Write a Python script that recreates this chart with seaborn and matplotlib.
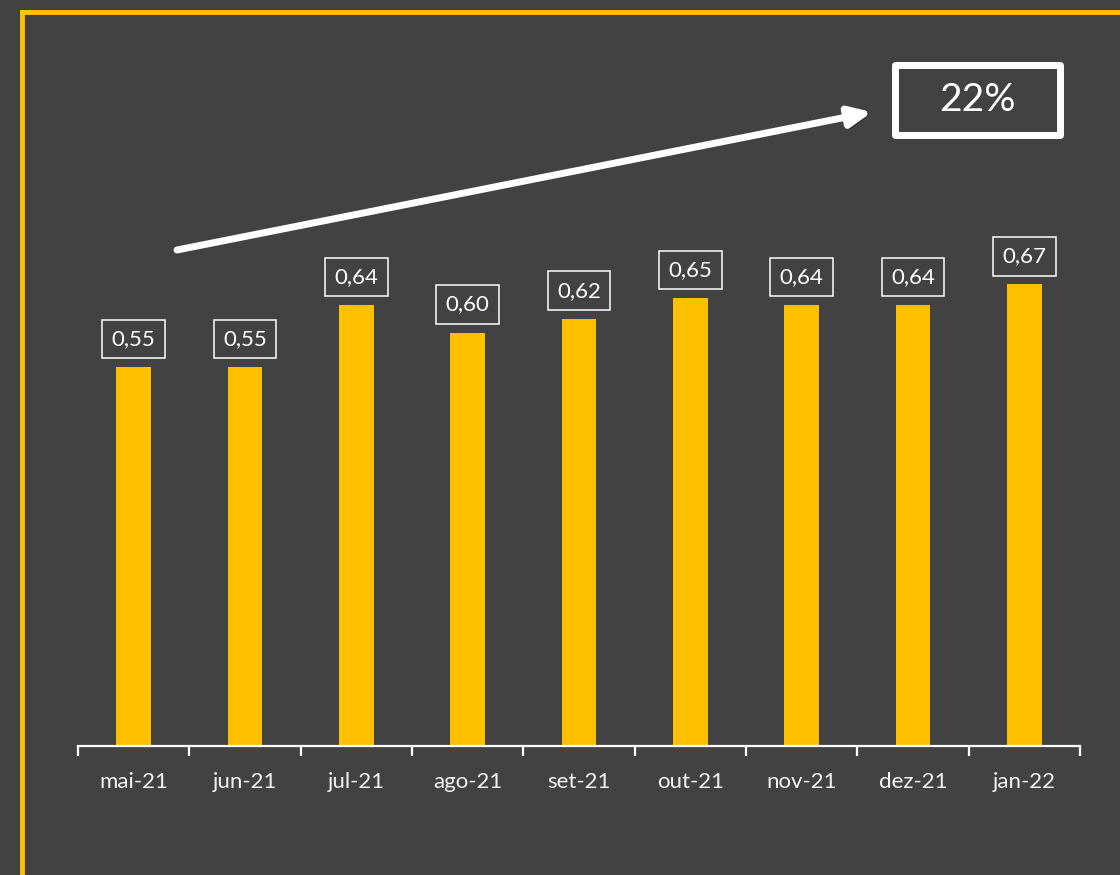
import matplotlib
matplotlib.use("Agg")
import matplotlib.pyplot as plt
import matplotlib.patheffects as pe
from matplotlib.lines import Line2D
from matplotlib.patches import Rectangle
import seaborn as sns
import pandas as pd

months = ["mai-21", "jun-21", "jul-21", "ago-21", "set-21", "out-21", "nov-21", "dez-21", "jan-22"]
values = [0.55, 0.55, 0.64, 0.60, 0.62, 0.65, 0.64, 0.64, 0.67]
growth_label = "22%"

bg = "#424242"
gold = "#FFC000"

sns.set_theme(style="white")
plt.rcParams["font.family"] = ["Lato", "DejaVu Sans"]

df = pd.DataFrame({"mes": months, "valor": values})

W, H = 1120, 875
fig = plt.figure(figsize=(11.2, 8.75), dpi=100, facecolor=bg)
ax = fig.add_axes([78 / W, 129 / H, 1002 / W, 689 / H])
ax.set_facecolor(bg)

sns.barplot(data=df, x="mes", y="valor", order=months, color=gold,
            width=0.31, saturation=1, linewidth=0, ax=ax)

ax.set_xlim(-0.5, len(months) - 0.5)
ax.set_ylim(0, 1.0)
ax.set_xlabel("")
ax.set_ylabel("")
ax.set_yticks([])

# ticks at category boundaries, labels at centres
ax.set_xticks([i - 0.5 for i in range(len(months) + 1)])
ax.set_xticklabels([])
ax.set_xticks(range(len(months)), minor=True)
ax.set_xticklabels(months, minor=True)
ax.tick_params(axis="x", which="major", bottom=True, length=7, width=1.6,
               color="white", direction="out")
ax.tick_params(axis="x", which="minor", bottom=True, length=0, pad=19,
               labelsize=16, labelcolor="#f2f2f2")

for s in ["top", "right", "left"]:
    ax.spines[s].set_visible(False)
ax.spines["bottom"].set_color("white")
ax.spines["bottom"].set_linewidth(1.6)

labels = [f"{v:.2f}".replace(".", ",") for v in values]
ax.bar_label(ax.containers[0], labels=labels, padding=13, fontsize=16, color="white",
             bbox=dict(boxstyle="square,pad=0.42", facecolor=bg, edgecolor="white", linewidth=1.1))

# trend arrow and growth box
shadow = [pe.SimplePatchShadow(offset=(2, -3), shadow_rgbFace="#2e2e2e", alpha=0.6), pe.Normal()]
ax.annotate("", xy=(872 / W, 1 - 112 / H), xytext=(177 / W, 1 - 250 / H),
            xycoords="figure fraction", textcoords="figure fraction",
            arrowprops=dict(arrowstyle="-|>,head_length=1.1,head_width=0.5", color="white",
                            lw=5, shrinkA=0, shrinkB=0, path_effects=shadow))
fig.add_artist(Rectangle((894.5 / W, 1 - 134.5 / H), 165 / W, 70 / H,
                         transform=fig.transFigure, facecolor=bg, edgecolor="white",
                         linewidth=5, joinstyle="round", path_effects=shadow))
fig.text(977 / W, 1 - 100 / H, growth_label, ha="center", va="center",
         fontsize=28, color="white")

# frame lines on the left and top
fig.add_artist(Line2D([22 / W, 22 / W], [0, 1 - 12 / H], transform=fig.transFigure,
                      color=gold, lw=3.5, solid_capstyle="projecting"))
fig.add_artist(Line2D([22 / W, 1], [1 - 12 / H, 1 - 12 / H], transform=fig.transFigure,
                      color=gold, lw=3.5, solid_capstyle="projecting"))

fig.savefig("out.png", dpi=100, facecolor=bg)
